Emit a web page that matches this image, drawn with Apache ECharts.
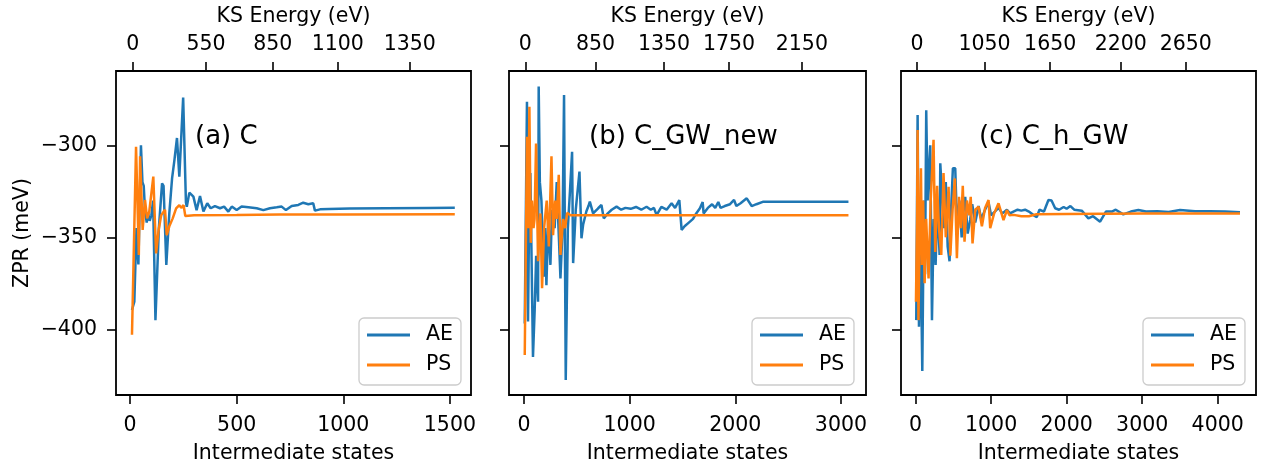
<!DOCTYPE html>
<html><head><meta charset="utf-8">
<script src="https://cdn.jsdelivr.net/npm/echarts@6/dist/echarts.min.js"></script>
<style>html,body{margin:0;padding:0;background:#fff}#c{width:1265px;height:466px}</style>
</head><body><div id="c"></div>
<script>
// ---------- data ----------
const panelTitles = ['(a) C', '(b) C_GW_new', '(c) C_h_GW'];

const statesAE_a = [9,20,30,39,51,58,64,70,78,85,92,100,108,119,135,150,157,170,184,197,208,220,231,249,262,266,278,297,312,328,344,362,378,398,422,441,461,477,500,523,555,594,625,656,688,711,731,758,789,812,836,859,867,891,933,1031,1200,1400,1523];
const ae_a = [-389.5,-385,-345,-364.7,-300,-320,-322,-335,-342,-337,-341,-338,-330,-395,-345,-320.7,-322,-365,-337,-318,-308,-296,-317,-274,-331,-333.4,-325.7,-327.9,-335.2,-327.6,-336,-331.5,-334.2,-333,-334.2,-333.3,-336,-333.3,-335.2,-333.3,-333.7,-334.2,-335.2,-334.2,-333.7,-333.3,-335.2,-333,-332.4,-331.2,-332,-331.5,-335.5,-334.8,-334.6,-334.4,-334.2,-334,-333.9];
const statesPS_a = [9,28,41,47,59,70,80,90,109,122,134,146,164,172,184,200,216,231,240,251,259,300,500,700,1000,1523];
const ps_a = [-403,-300.8,-359.6,-306,-346,-329.7,-339.7,-336,-317,-358.7,-346,-338,-335,-348.8,-344,-339.7,-334.3,-332.5,-334,-332.5,-338.4,-338,-337.9,-337.6,-337.6,-337.5];

const statesAE_b = [7,28,38,50,60,70,85,101,115,133,139,150,165,187,200,212,230,250,265,290,310,330,345,365,379,395,415,435,455,465,490,525,544,560,590,610,623,654,702,733,755,793,830,876,920,960,1010,1060,1110,1160,1200,1230,1255,1300,1350,1397,1430,1470,1492,1520,1560,1600,1630,1665,1691,1700,1740,1780,1810,1839,1860,1900,1950,1988,2010,2050,2108,2155,2200,2266,2500,3071];
const ae_b = [-396.8,-276.3,-395.8,-330,-315,-355,-415,-389.5,-360,-385,-268,-320,-330,-371.4,-345,-376,-340,-365,-335,-345,-320,-350,-372.3,-345,-272.7,-427.5,-345,-325,-303.5,-364,-335,-314.3,-350.5,-343,-336,-333,-330.6,-337,-334.2,-332.4,-339.7,-337,-335,-333.3,-335,-334,-334.5,-333.5,-335,-333.4,-335,-334,-337.9,-333.5,-335,-331.5,-334,-329.7,-346,-344,-342,-340,-337,-334.2,-330.8,-337,-334,-332,-334,-330.8,-334,-333,-332,-329.7,-333,-331.5,-328.8,-333,-332,-330.6,-330.6,-330.6];
const statesPS_b = [7,28,40,51,64,75,90,100,114,133,155,171,190,215,235,260,275,295,310,329,345,370,390,408,440,600,1500,3071];
const ps_b = [-414,-295.3,-345,-279,-353,-330,-345,-340,-299,-363,-337,-377.7,-345,-330,-355,-306,-348.8,-330,-340,-316,-359.6,-340,-345,-336.7,-338,-338,-338,-338];

const statesAE_c = [9,27,45,60,75,89,110,125,141,160,175,194,217,240,265,290,318,327,349,375,400,425,450,470,494,525,550,580,610,635,657,690,723,750,790,834,870,920,966,1000,1050,1098,1150,1209,1250,1296,1350,1400,1450,1500,1561,1605,1640,1700,1759,1800,1848,1900,1960,2000,2050,2100,2200,2288,2350,2443,2520,2600,2650,2750,2850,2950,3050,3200,3350,3501,3700,3900,4100,4295];
const ae_c = [-395,-283.5,-398.6,-340,-380,-422.7,-330,-370,-281,-330,-315,-300,-395,-340,-365,-330,-359.6,-309.8,-309,-345,-320,-355,-363,-335,-312.5,-312.5,-345,-330,-350,-335,-328,-348,-340.6,-332,-342,-333,-340,-335,-331,-338,-336,-334,-337,-335,-337,-336,-335,-335.5,-335,-336,-337.9,-339,-335,-336,-329.7,-330,-334.2,-335,-333.5,-334.5,-333,-335,-335.5,-339.7,-338.5,-341.5,-336,-336,-335,-337.5,-336,-335.2,-336,-335.8,-336.2,-335.2,-335.8,-335.8,-335.9,-336.4];
const statesPS_c = [5,20,27,38,50,71,85,100,120,140,172,200,238,260,285,310,340,370,400,437,460,490,520,547,575,600,625,648,680,710,730,754,790,834,878,920,966,988,1040,1098,1164,1209,1243,1300,1400,1500,1600,2000,3000,4295];
const ps_c = [-385,-340,-291.7,-395,-360,-312.5,-365,-330,-375,-340,-372.3,-330,-297,-358,-322,-345,-359.6,-315,-350,-322.5,-360,-335,-318,-361.4,-328,-345,-322,-352.4,-330,-338,-328,-353.3,-335,-333.4,-344,-334,-329.7,-345,-337,-331.5,-340.6,-335.2,-338,-337.8,-338.5,-338.5,-337.5,-337.3,-337.1,-337];

const bottomTicks = [[0,500,1000,1500],[0,1000,2000,3000],[0,1000,2000,3000,4000]];
const topTicks = [[12.6,356,669,974,1312],[13,677,1325,1941,2630],[18.5,913,1782,2717,3577]];
const topLabels = [['0','550','850','1100','1350'],['0','850','1350','1750','2150'],['0','1050','1650','2200','2650']];
const yTicks = [-400,-350,-300];

// ---------- layout ----------
const FONT = 'DejaVu Sans';
const FS = 20.5;
const gridsPx = [{left:116,width:355},{left:509,width:357},{left:901,width:355}];
const xRanges = [[-66,1599],[-142,3237],[-193,4507]];
const yRange = [-435.7,-259.6];
const legendLeft = [359,752,1143];
const titleX = [195,589,979];

const zip = (xs, ys) => xs.map((x, i) => [x, ys[i]]);
const aeSets = [zip(statesAE_a, ae_a), zip(statesAE_b, ae_b), zip(statesAE_c, ae_c)];
const psSets = [zip(statesPS_a, ps_a), zip(statesPS_b, ps_b), zip(statesPS_c, ps_c)];

const tickStyle = {show:true, length:9, lineStyle:{color:'#000', width:1.6}};
const labelStyle = {color:'#000', fontFamily:FONT, fontSize:FS};
const nameStyle = {color:'#000', fontFamily:FONT, fontSize:FS};
const minus = v => String(v).replace('-', '\u2212');

const grid = [], xAxis = [], yAxis = [], series = [], legend = [], graphic = [];
for (let p = 0; p < 3; p++) {
  grid.push({left:gridsPx[p].left, width:gridsPx[p].width, top:71, height:324, show:true, borderColor:'#000', borderWidth:1.8,
    backgroundColor:'transparent', containLabel:false, outerBoundsMode:'none'});
  xAxis.push({type:'value', gridIndex:p, position:'bottom', min:xRanges[p][0], max:xRanges[p][1],
    axisLine:{show:false, onZero:false}, splitLine:{show:false},
    axisTick:Object.assign({customValues:bottomTicks[p]}, tickStyle),
    axisLabel:Object.assign({customValues:bottomTicks[p], margin:20, formatter:minus}, labelStyle),
    name:'Intermediate states', nameLocation:'middle', nameGap:48, nameTextStyle:nameStyle});
  const tt = topTicks[p], tl = topLabels[p];
  xAxis.push({type:'value', gridIndex:p, position:'top', min:xRanges[p][0], max:xRanges[p][1],
    axisLine:{show:false, onZero:false}, splitLine:{show:false},
    axisTick:Object.assign({customValues:tt}, tickStyle),
    axisLabel:Object.assign({customValues:tt, margin:16, formatter:function(v){
      let bi = 0; for (let i = 1; i < tt.length; i++) if (Math.abs(tt[i]-v) < Math.abs(tt[bi]-v)) bi = i; return tl[bi];}}, labelStyle),
    name:'KS Energy (eV)', nameLocation:'middle', nameGap:44, nameTextStyle:nameStyle});
  yAxis.push({type:'value', gridIndex:p, min:yRange[0], max:yRange[1],
    axisLine:{show:false, onZero:false}, splitLine:{show:false},
    axisTick:Object.assign({customValues:yTicks}, tickStyle),
    axisLabel:Object.assign({customValues:yTicks, show:p === 0, margin:19, formatter:minus}, labelStyle),
    name:p === 0 ? 'ZPR (meV)' : '', nameLocation:'middle', nameGap:83, nameRotate:90, nameTextStyle:nameStyle});
  series.push({name:'AE', type:'line', xAxisIndex:2*p, yAxisIndex:p, data:aeSets[p], showSymbol:false, symbol:'none',
    lineStyle:{color:'#1f77b4', width:2.5}, itemStyle:{color:'#1f77b4'}, z:2, animation:false});
  series.push({name:'PS', type:'line', xAxisIndex:2*p, yAxisIndex:p, data:psSets[p], showSymbol:false, symbol:'none',
    lineStyle:{color:'#ff7f0e', width:2.5}, itemStyle:{color:'#ff7f0e'}, z:3, animation:false});
  legend.push({orient:'vertical', left:legendLeft[p], top:318, data:['AE','PS'], icon:'rect', itemWidth:43, itemHeight:3, itemGap:8,
    padding:[6,8,9,8], backgroundColor:'rgba(255,255,255,0.8)', borderColor:'#cccccc', borderWidth:1.3, borderRadius:5,
    selectedMode:false, textStyle:{color:'#000', fontFamily:FONT, fontSize:FS, lineHeight:22, padding:[0,0,0,11]}});
  graphic.push({type:'text', x:titleX[p], y:137, z:10, style:{text:panelTitles[p], fill:'#000', fontFamily:FONT, fontSize:26, verticalAlign:'middle', align:'left'}});
}

const chart = echarts.init(document.getElementById('c'), null, {renderer:'canvas'});
chart.setOption({animation:false, backgroundColor:'#fff', grid, xAxis, yAxis, series, legend, graphic});
</script></body></html>
